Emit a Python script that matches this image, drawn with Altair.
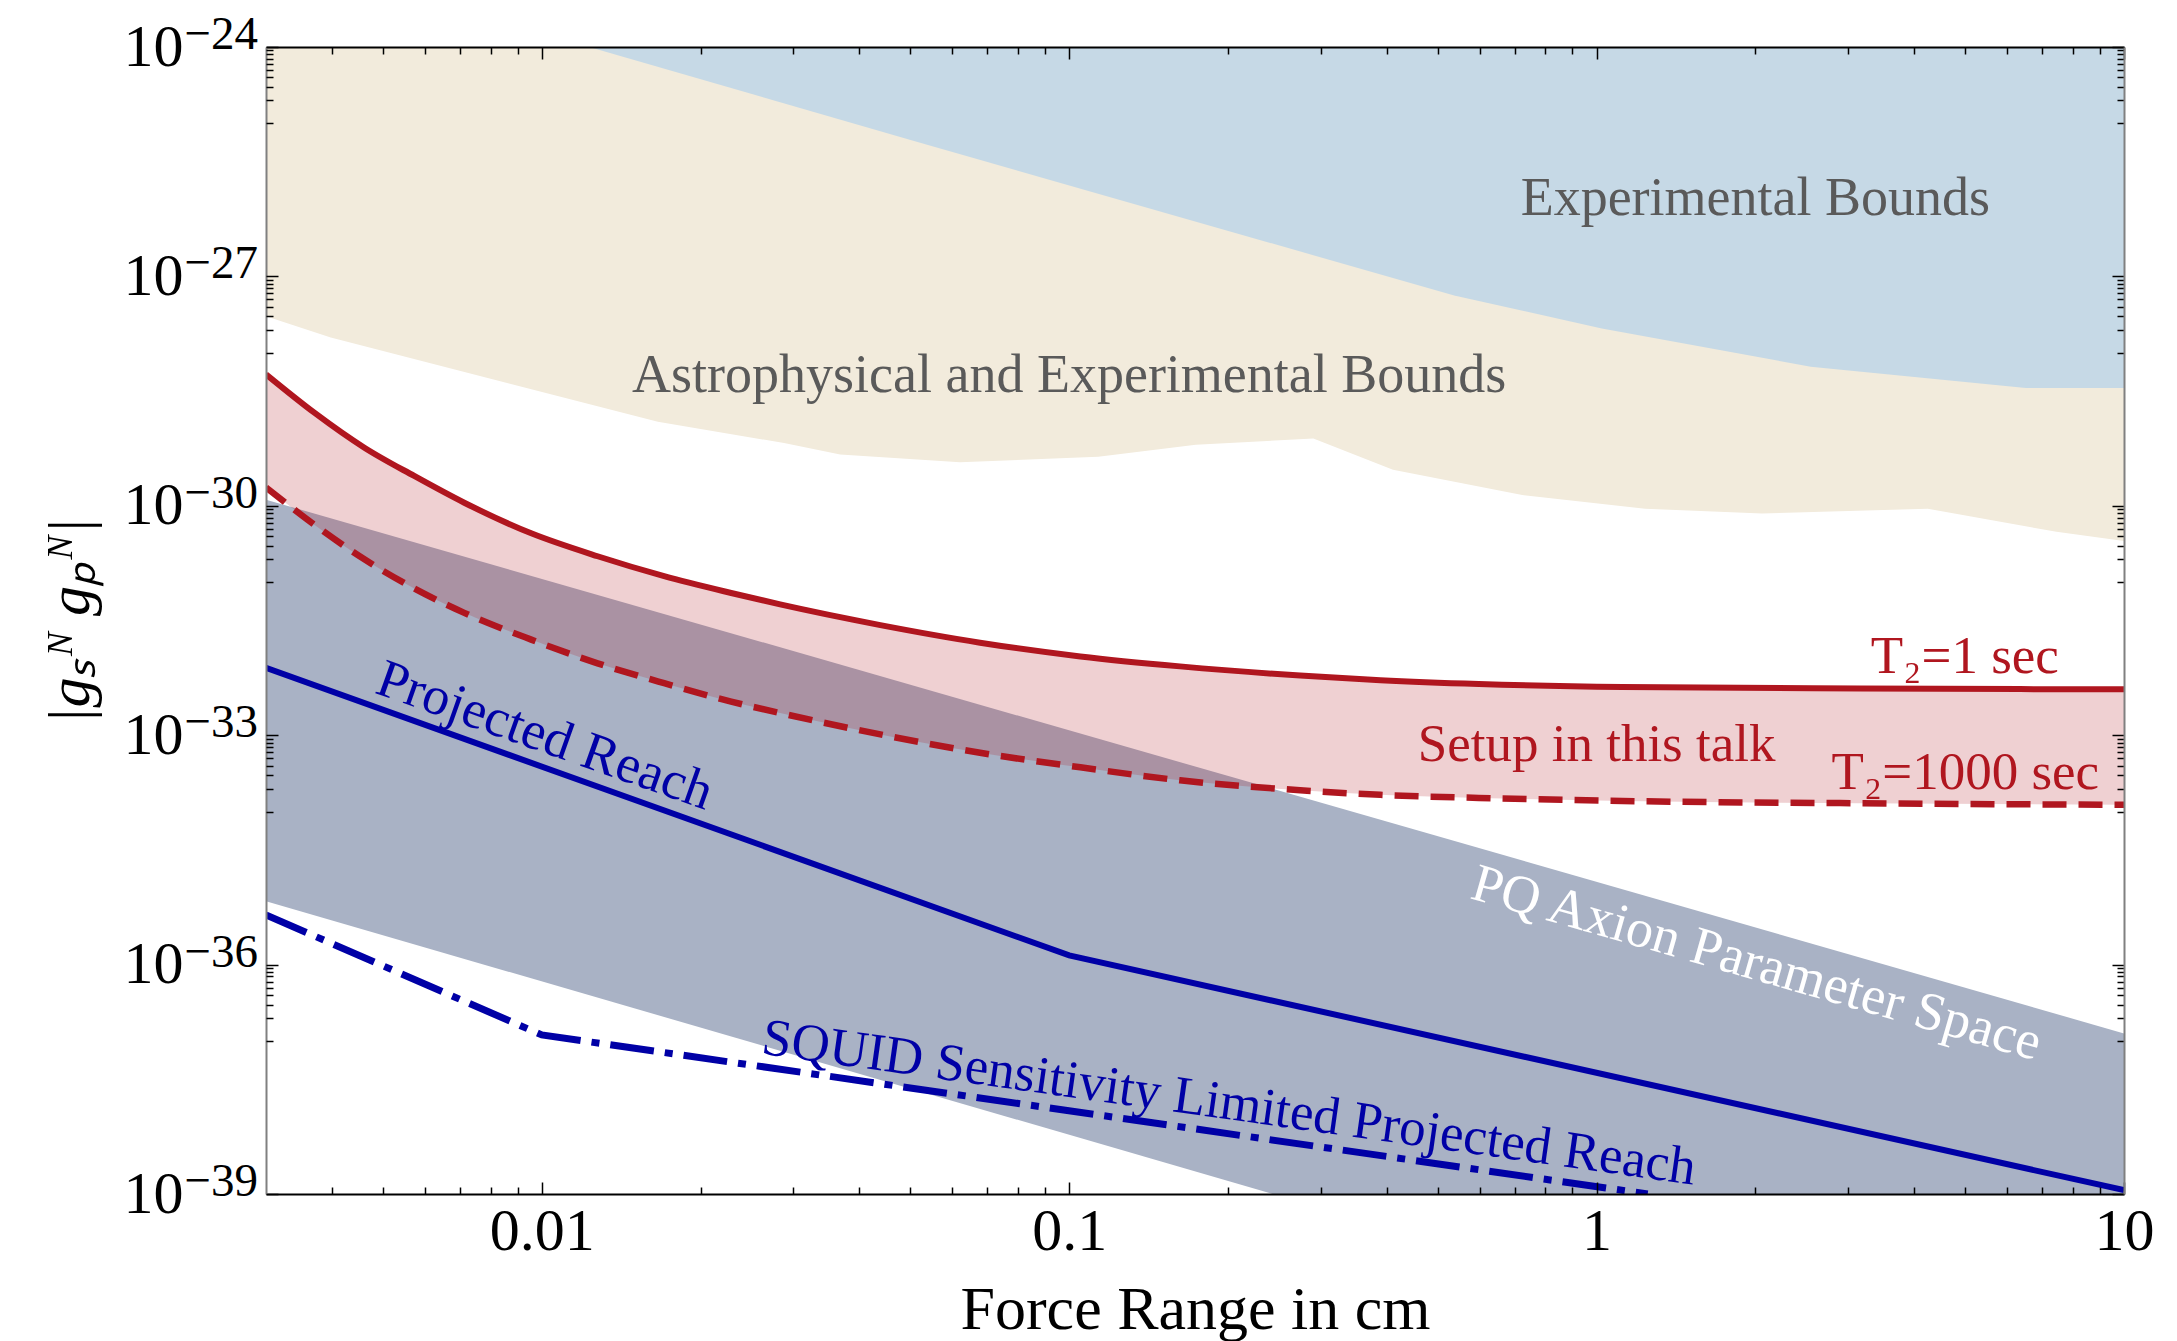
import altair as alt
import pandas as pd

# ---------------- values (x in cm, y as log10 of |g_s g_p|) ----------------
astro_x = [0.003, 0.00398, 0.0166, 0.0288, 0.0368, 0.0621, 0.1135, 0.1738, 0.2904, 0.4111,
           0.7228, 1.236, 2.061, 4.246, 7.447, 10.0]
astro_low = [-27.52, -27.80, -28.90, -29.18, -29.33, -29.43, -29.36, -29.20, -29.12, -29.53,
             -29.86, -30.04, -30.10, -30.04, -30.34, -30.46]

exper_x = [0.0123, 0.0508, 0.537, 1.023, 2.547, 6.516, 10.0]
exper_low = [-24.0, -25.23, -27.25, -27.68, -28.18, -28.46, -28.46]

pq_x = [0.003, 0.243, 10.0]
pq_upper = [-29.92, -33.70, -36.90]
pq_lower = [-35.17, -39.00, -39.00]

red_x = [0.003, 0.00371, 0.00461, 0.00573, 0.00713, 0.00955, 0.01276, 0.01706, 0.02286, 0.02831,
         0.04385, 0.06776, 0.1050, 0.1622, 0.2742, 0.389, 0.598, 1.12, 3.16, 10.0]
t2_1_sec = [-28.28, -28.785, -29.24, -29.61, -29.96, -30.36, -30.66, -30.92, -31.14, -31.29,
            -31.56, -31.79, -31.97, -32.10, -32.22, -32.28, -32.33, -32.37, -32.39, -32.40]
t2_1000_sec = [-29.76, -30.25, -30.70, -31.08, -31.40, -31.75, -32.06, -32.32, -32.56, -32.71,
               -32.99, -33.23, -33.42, -33.59, -33.72, -33.78, -33.82, -33.86, -33.89, -33.91]

reach_x = [0.003, 0.1, 10.0]
reach_y = [-32.12, -35.88, -38.95]

squid_x = [0.003, 0.01, 1.25]
squid_y = [-35.35, -36.92, -39.0]

GRAY_T = "#5a5a5a"
RED = "#b0161f"
BLUE = "#0000a6"
WHITE = "#ffffff"

label_text = ["Experimental Bounds", "Astrophysical and Experimental Bounds", "T₂=1 sec",
              "Setup in this talk", "T₂=1000 sec", "Projected Reach", "PQ Axion Parameter Space",
              "SQUID Sensitivity Limited Projected Reach"]
label_x = [2.0, 0.1, 4.99, 1.0, 5.0, 0.0099, 1.97, 0.199]
label_y = [-26.20, -28.51, -32.19, -33.34, -33.71, -33.21, -36.19, -38.02]
label_angle = [0, 0, 0, 0, 0, 19.5, 16, 8]
label_color = [GRAY_T, GRAY_T, RED, RED, RED, BLUE, WHITE, BLUE]
label_size = [54, 54, 53, 53, 53, 54, 54, 53]

x_major = [0.01, 0.1, 1, 10]
x_major_text = ["0.01", "0.1", "1", "10"]
y_major_exp = [-24, -27, -30, -33, -36, -39]
y_exp_text = ["\u221224", "\u221227", "\u221230", "\u221233", "\u221236", "\u221239"]

x_ticks = [k * 10.0 ** n for n in (-3, -2, -1, 0) for k in range(1, 10) if 0.0035 < k * 10.0 ** n <= 10] + [10.0]
y_ticks = [k * 10.0 ** (m - 1) for m in y_major_exp[:-1] for k in range(1, 10)] + [10.0 ** m for m in y_major_exp]

# ---------------- layout / style ----------------
W, H = 1858, 1147
FONT = "Liberation Serif"
xscale = alt.Scale(type="log", domain=[0.003, 10], nice=False)
yscale = alt.Scale(type="log", domain=[1e-39, 1e-24], nice=False)

dec = "abs(log(datum.value)/LN10 - round(log(datum.value)/LN10)) < 0.01"
maj_y = dec + " && round(log(datum.value)/LN10) % 3 == 0"
x_label_expr = " : ".join(f"abs(datum.value/{v} - 1) < 1e-6 ? '{t}'" for v, t in zip(x_major, x_major_text)) + " : ''"
y_label_expr = " : ".join(f"abs(log(datum.value)/LN10 - ({e})) < 0.01 ? '10'" for e in y_major_exp) + " : ''"

tick_x = {"condition": {"test": dec, "value": 12}, "value": 7}
tick_y = {"condition": {"test": maj_y, "value": 12}, "value": 7}

axis_xA = alt.Axis(orient="bottom", values=x_ticks, labelExpr=x_label_expr, ticks=False, domain=True,
                   domainColor="black", domainWidth=2, grid=False, labelFont=FONT, labelFontSize=60,
                   labelColor="black", labelPadding=8, labelFlush=False, labelOverlap=False,
                   title="Force Range in cm", titleFont=FONT, titleFontSize=62, titleFontWeight="normal",
                   titleColor="black", titlePadding=18, zindex=2)
axis_xB = alt.Axis(orient="top", offset=-H, values=x_ticks, labels=False, ticks=True, tickSize=tick_x,
                   tickColor="black", tickWidth=1.5, domain=False, grid=False, title=None, zindex=2)
axis_xC = alt.Axis(orient="bottom", offset=-H, values=x_ticks, labels=False, ticks=True, tickSize=tick_x,
                   tickColor="black", tickWidth=1.5, domain=True, domainColor="black", domainWidth=2,
                   grid=False, title=None, zindex=2)

axis_yA = alt.Axis(orient="left", values=y_ticks, labelExpr=y_label_expr, ticks=False, domain=True,
                   domainColor="#808080", domainWidth=2, grid=False, labelFont=FONT, labelFontSize=60,
                   labelColor="black", labelPadding=83, labelOverlap=False, labelFlush=False,
                   title="|gₛᴺ gₚᴺ|", titleFont=FONT, titleFontSize=60, titleFontStyle="italic",
                   titleFontWeight="normal", titleColor="black", titlePadding=22, zindex=2)
axis_yB = alt.Axis(orient="right", offset=-W, values=y_ticks, labels=False, ticks=True, tickSize=tick_y,
                   tickColor="black", tickWidth=1.5, domain=False, grid=False, title=None, zindex=2)
axis_yC = alt.Axis(orient="left", offset=-W, values=y_ticks, labels=False, ticks=True, tickSize=tick_y,
                   tickColor="black", tickWidth=1.5, domain=True, domainColor="#808080", domainWidth=2,
                   grid=False, title=None, zindex=2)

# ---------------- tables ----------------
astro_df = pd.DataFrame({"x": astro_x, "y": [10.0 ** v for v in astro_low], "y2": [1e-24] * len(astro_x)})
exper_df = pd.DataFrame({"x": exper_x, "y": [10.0 ** v for v in exper_low], "y2": [1e-24] * len(exper_x)})
pq_df = pd.DataFrame({"x": pq_x, "y": [10.0 ** v for v in pq_lower], "y2": [10.0 ** v for v in pq_upper]})
red_df = pd.DataFrame({"x": red_x, "y": [10.0 ** v for v in t2_1000_sec], "y2": [10.0 ** v for v in t2_1_sec]})
solid_df = pd.DataFrame({"x": red_x, "y": [10.0 ** v for v in t2_1_sec]})
dashed_df = pd.DataFrame({"x": red_x, "y": [10.0 ** v for v in t2_1000_sec]})
reach_df = pd.DataFrame({"x": reach_x, "y": [10.0 ** v for v in reach_y]})
squid_df = pd.DataFrame({"x": squid_x, "y": [10.0 ** v for v in squid_y]})
lab_df = pd.DataFrame({"x": label_x, "y": [10.0 ** v for v in label_y], "t": label_text,
                       "angle": label_angle, "color": label_color, "size": label_size})
exp_df = pd.DataFrame({"x": [0.003] * len(y_major_exp), "y": [10.0 ** e for e in y_major_exp], "t": y_exp_text})


def X(axis=None):
    return alt.X("x:Q", scale=xscale, axis=axis)


def Y(axis=None):
    return alt.Y("y:Q", scale=yscale, axis=axis)


astro = alt.Chart(astro_df).mark_area(color="#f2ebdc", clip=True).encode(x=X(axis_xA), y=Y(axis_yA), y2="y2:Q")
exper = alt.Chart(exper_df).mark_area(color="#c6d9e6", clip=True).encode(x=X(axis_xB), y=Y(axis_yB), y2="y2:Q")
pq = alt.Chart(pq_df).mark_area(color="#a9b2c5", clip=True).encode(x=X(axis_xC), y=Y(axis_yC), y2="y2:Q")
pink = alt.Chart(red_df).mark_area(color=RED, opacity=0.2, interpolate="monotone", clip=True).encode(
    x=X(), y=Y(), y2="y2:Q")
solid = alt.Chart(solid_df).mark_line(color=RED, strokeWidth=6, interpolate="monotone", clip=True).encode(x=X(), y=Y())
dashed = alt.Chart(dashed_df).mark_line(color=RED, strokeWidth=6.5, strokeDash=[24, 12], interpolate="monotone",
                                        clip=True).encode(x=X(), y=Y())
reach = alt.Chart(reach_df).mark_line(color=BLUE, strokeWidth=6, clip=True).encode(x=X(), y=Y())
squid = alt.Chart(squid_df).mark_line(color=BLUE, strokeWidth=7, strokeDash=[44, 11, 8, 11], clip=True).encode(
    x=X(), y=Y())
labels = alt.Chart(lab_df).mark_text(font=FONT, baseline="alphabetic", align="center").encode(
    x=X(), y=Y(), text="t:N",
    angle=alt.Angle("angle:Q", scale=None),
    color=alt.Color("color:N", scale=None),
    size=alt.Size("size:Q", scale=None))
exps = alt.Chart(exp_df).mark_text(font=FONT, fontSize=47, align="right", baseline="alphabetic", dx=-8, dy=2,
                                   color="black").encode(x=X(), y=Y(), text="t:N")

chart = alt.layer(astro, exper, pq, pink, solid, dashed, reach, squid, labels, exps).resolve_axis(
    x="independent", y="independent"
).properties(
    width=W, height=H, padding={"left": 32, "top": 3, "right": 5, "bottom": 5}
).configure_view(stroke=None)

chart.save("out.html", embed_options={"renderer": "svg", "actions": False})
